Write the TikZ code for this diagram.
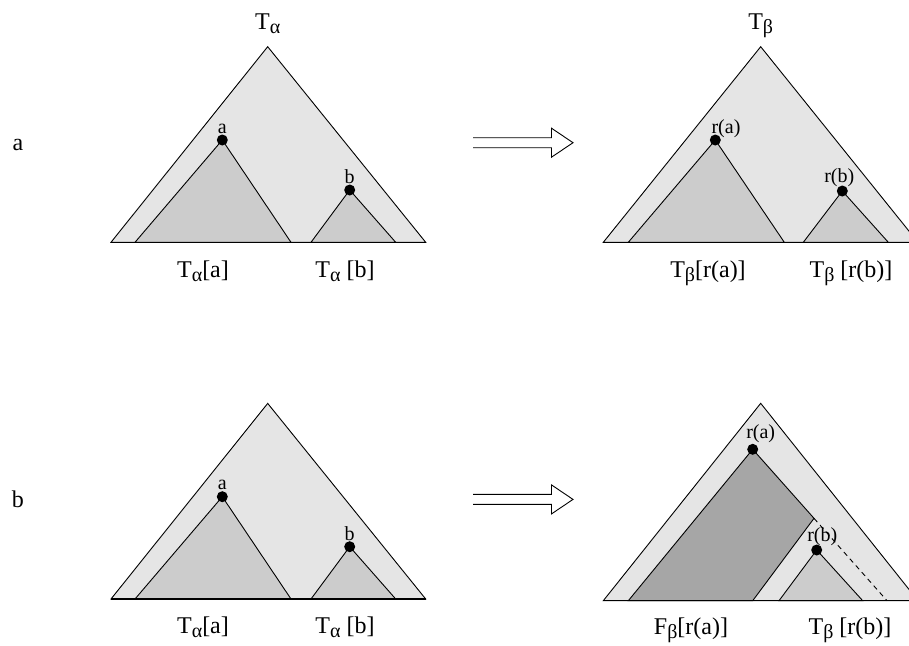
\documentclass[tikz,border=0pt]{standalone}
\usepackage{fontspec}
\setmainfont{Liberation Serif}
\usetikzlibrary{calc}

\newcommand\sub[1]{\raisebox{-4pt}{\fontsize{20}{22}\selectfont #1}}

\begin{document}
\begin{tikzpicture}[x=1pt, y=-1pt,
    every node/.style={inner sep=0pt},
    outer/.style={draw, fill=black!10, line width=0.9pt},
    inner/.style={draw, fill=black!20, line width=0.9pt},
    forest/.style={draw, fill=black!35, line width=0.9pt},
    baseline/.style={line width=1.3pt},
    dot/.style={circle, fill=black, minimum size=11pt},
    lbl/.style={font=\fontsize{24}{26}\selectfont, anchor=base},
    small/.style={font=\fontsize{20}{22}\selectfont, anchor=base},
    implies/.style={line width=0.9pt, to path={
      ($(\tikztostart)+(0,-5)$) -- ($(\tikztotarget)+(-21.5,-5)$)
      -- ($(\tikztotarget)+(-21.5,-14.5)$) -- (\tikztotarget)
      -- ($(\tikztotarget)+(-21.5,14.5)$) -- ($(\tikztotarget)+(-21.5,5)$)
      -- ($(\tikztostart)+(0,5)$)}}]
  \useasboundingbox (0,0) rectangle (909,645);
  \clip (0,0) rectangle (909,645);

  % side labels
  \node[lbl] (case-a) at (18,150) {a};
  \node[lbl] (case-b) at (18,507) {b};

  % left trees (same in both rows)
  \foreach \dy/\n in {0/up,356.7/dn}{
    \begin{scope}[shift={(0,\dy)}]
      \coordinate (\n-root) at (267.7,46.7);
      \coordinate (\n-l) at (111,242.3);
      \coordinate (\n-r) at (425.7,242.3);
      \coordinate (\n-ta) at (222.3,140);
      \coordinate (\n-tb) at (349.7,190);
      \draw[outer] (\n-root) -- (\n-l) -- (\n-r) -- cycle;
      \draw[inner] (\n-ta) -- (135,242.3) -- (291,242.3) -- cycle;
      \draw[inner] (\n-tb) -- (311,242.3) -- (395.7,242.3) -- cycle;
      \draw[baseline] (\n-l) -- (\n-r);
      \node[dot] (\n-a) at (\n-ta) {};
      \node[dot] (\n-b) at (\n-tb) {};
      \node[small] (\n-la) at (222.3,133) {a};
      \node[small] (\n-lb) at (349.7,183.5) {b};
      \node[lbl] (\n-sa) at (203,277) {T\sub{α}[a]};
      \node[lbl] (\n-sb) at (345,277) {T\sub{α} [b]};
    \end{scope}
  }
  \node[lbl] (up-name) at (267.7,29.5) {T\sub{α}};

  % arrows
  \coordinate (arr1-s) at (473,142.7);
  \coordinate (arr1-e) at (573,142.7);
  \coordinate (arr2-s) at (473,499.4);
  \coordinate (arr2-e) at (573,499.4);
  \draw[implies] (arr1-s) to (arr1-e);
  \draw[implies] (arr2-s) to (arr2-e);

  % top right tree
  \coordinate (R-root) at (760.7,46.7);
  \coordinate (R-l) at (603.3,242.3);
  \coordinate (R-r) at (918,242.3);
  \coordinate (R-ta) at (715.3,140);
  \coordinate (R-tb) at (842.3,191);
  \draw[outer] (R-root) -- (R-l) -- (R-r) -- cycle;
  \draw[inner] (R-ta) -- (628.3,242.3) -- (784.3,242.3) -- cycle;
  \draw[inner] (R-tb) -- (803.3,242.3) -- (888.3,242.3) -- cycle;
  \draw[baseline] (R-l) -- (R-r);
  \node[dot] (R-a) at (R-ta) {};
  \node[dot] (R-b) at (R-tb) {};
  \node[small] (R-la) at (726,133) {r(a)};
  \node[small] (R-lb) at (839.3,182.5) {r(b)};
  \node[lbl] (R-name) at (760.7,29.5) {T\sub{β}};
  \node[lbl] (R-sa) at (708,277) {T\sub{β}[r(a)]};
  \node[lbl] (R-sb) at (851,277) {T\sub{β} [r(b)]};

  % bottom right tree
  \coordinate (F-root) at (760.7,403.3);
  \coordinate (F-l) at (603.3,600.7);
  \coordinate (F-r) at (918,600.7);
  \coordinate (F-ta) at (752.7,449.3);
  \coordinate (F-cut) at (814,518.3);
  \coordinate (F-tb) at (816.7,550);
  \draw[outer] (F-root) -- (F-l) -- (F-r) -- cycle;
  \draw[forest] (F-ta) -- (628.3,600.7) -- (752.7,600.7) -- (F-cut) -- cycle;
  \draw[inner] (F-tb) -- (779,600.7) -- (862.7,600.7) -- cycle;
  \draw[dash pattern=on 5pt off 4pt, line width=0.9pt] (F-cut) -- (887,600.7);
  \draw[baseline] (F-l) -- (F-r);
  \node[dot] (F-a) at (F-ta) {};
  \node[dot] (F-b) at (F-tb) {};
  \node[small] (F-la) at (760.7,438) {r(a)};
  \node[small] (F-lb) at (822.3,541.5) {r(b)};
  \node[lbl] (F-sa) at (691,634) {F\sub{β}[r(a)]};
  \node[lbl] (F-sb) at (850,634) {T\sub{β} [r(b)]};
\end{tikzpicture}
\end{document}
